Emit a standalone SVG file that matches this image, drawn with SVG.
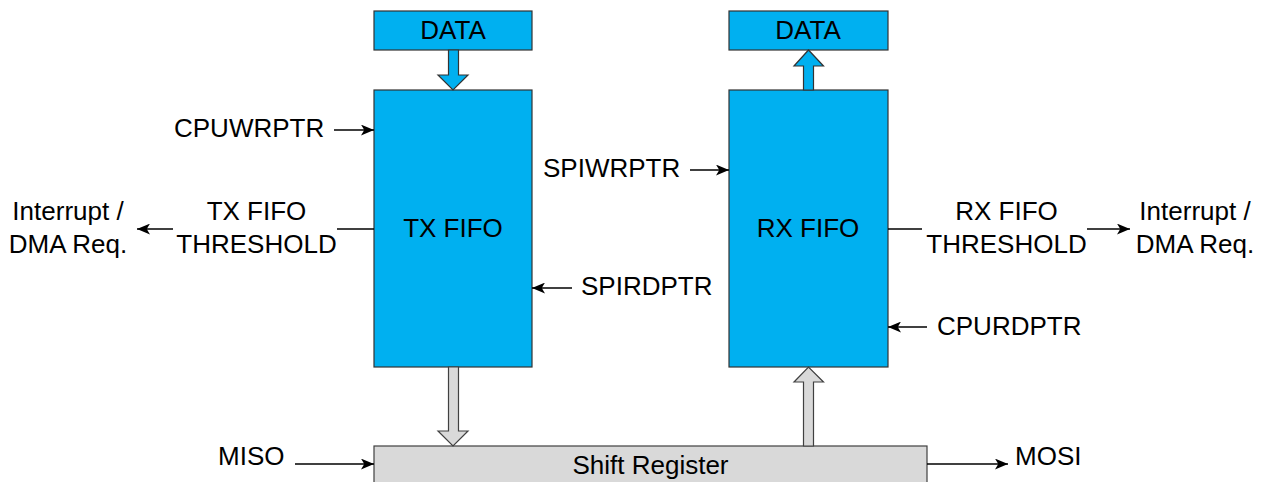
<svg xmlns="http://www.w3.org/2000/svg" width="1265" height="482" viewBox="0 0 1265 482">
<style>
.blue{fill:#00B0F0;stroke:#333;stroke-width:1.2}
.gray{fill:#D9D9D9;stroke:#404040;stroke-width:1.2}
.t{font-family:"Liberation Sans",Arial,sans-serif;font-size:26px;fill:#000}
.m{text-anchor:middle}
.ln{stroke:#000;stroke-width:1.5;fill:none}
</style>
<defs>
<marker id="ah" viewBox="0 0 12 10" refX="12" refY="5" markerWidth="13" markerHeight="11" markerUnits="userSpaceOnUse" orient="auto">
<path d="M0,0 L12,5 L0,10 L3,5 Z" fill="#000"/>
</marker>
</defs>
<rect width="1265" height="482" fill="#fff"/>
<g id="tx-data"><rect class="blue" x="374" y="11" width="158" height="39"/><text class="t m" x="453" y="39">DATA</text></g>
<g id="rx-data"><rect class="blue" x="729" y="11" width="159" height="39"/><text class="t m" x="808" y="39">DATA</text></g>
<g id="tx-fifo"><rect class="blue" x="374" y="90" width="158" height="277"/><text class="t m" x="453" y="237">TX FIFO</text></g>
<g id="rx-fifo"><rect class="blue" x="729" y="90" width="159" height="277"/><text class="t m" x="808" y="237">RX FIFO</text></g>
<g id="shift-register"><rect class="gray" x="374" y="446" width="553" height="50"/><text class="t m" x="650.5" y="474">Shift Register</text></g>
<g id="labels">
<text class="t" x="174" y="137">CPUWRPTR</text>
<text class="t" x="543" y="177">SPIWRPTR</text>
<text class="t" x="581" y="295">SPIRDPTR</text>
<text class="t" x="937" y="335">CPURDPTR</text>
<text class="t m" x="256.5" y="220">TX FIFO</text>
<text class="t m" x="256.5" y="253">THRESHOLD</text>
<text class="t m" x="1006.5" y="220">RX FIFO</text>
<text class="t m" x="1006.5" y="253">THRESHOLD</text>
<text class="t m" x="68" y="220">Interrupt /</text>
<text class="t m" x="68" y="253">DMA Req.</text>
<text class="t m" x="1195" y="220">Interrupt /</text>
<text class="t m" x="1195" y="253">DMA Req.</text>
<text class="t" x="218" y="465">MISO</text>
<text class="t" x="1015" y="465">MOSI</text>
</g>
<g id="connectors">
<path class="blue" d="M448.5,50 L458.5,50 L458.5,75 L468,75 L453,90 L438,75 L448.5,75 Z"/>
<path class="blue" d="M803.5,90 L813.5,90 L813.5,66 L823.5,66 L808.5,50 L794,66 L803.5,66 Z"/>
<path class="gray" d="M448.5,367 L458.5,367 L458.5,431 L468,431 L453,446 L438,431 L448.5,431 Z"/>
<path class="gray" d="M803.5,446 L813.5,446 L813.5,382 L823.5,382 L808.5,367 L794,382 L803.5,382 Z"/>
<line class="ln" x1="334" y1="130" x2="374" y2="130" marker-end="url(#ah)"/>
<line class="ln" x1="690" y1="170" x2="729" y2="170" marker-end="url(#ah)"/>
<line class="ln" x1="572" y1="288" x2="532" y2="288" marker-end="url(#ah)"/>
<line class="ln" x1="927" y1="327" x2="888" y2="327" marker-end="url(#ah)"/>
<line class="ln" x1="374" y1="229" x2="337" y2="229"/>
<line class="ln" x1="173" y1="229" x2="137" y2="229" marker-end="url(#ah)"/>
<line class="ln" x1="888" y1="229" x2="922" y2="229"/>
<line class="ln" x1="1087" y1="229" x2="1130" y2="229" marker-end="url(#ah)"/>
<line class="ln" x1="295" y1="464" x2="374" y2="464" marker-end="url(#ah)"/>
<line class="ln" x1="927" y1="464" x2="1008" y2="464" marker-end="url(#ah)"/>
</g>
</svg>
